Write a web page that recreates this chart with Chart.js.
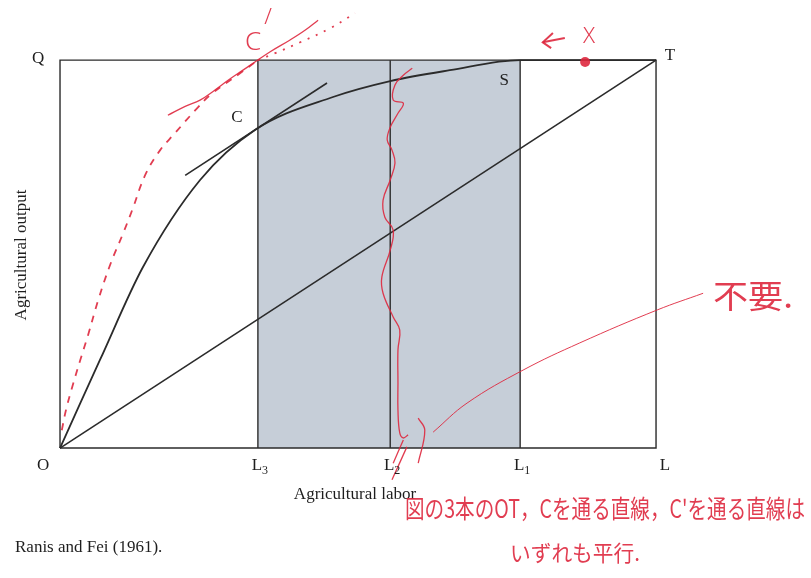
<!DOCTYPE html>
<html>
<head>
<meta charset="utf-8">
<script src="https://cdn.jsdelivr.net/npm/chart.js@4.4.1/dist/chart.umd.min.js"></script>
<style>
  body { margin: 0; background: #fff; }
  #wrap { width: 811px; height: 578px; }
</style>
</head>
<body>
<div id="wrap"><canvas id="fig" width="811" height="578"></canvas></div>
<script>
// axis marks (labor share, 0 = O, 100 = L)
var laborMarks = ['O', 'L3', 'L2', 'L1', 'L'];
var laborPos = [0, 33.2, 55.4, 77.2, 100];
var outputTop = 100;

// total product curve O - C - S - T
var curveX = [0, 3.4, 6.7, 13.9, 23.5, 32.7, 45.8, 55.4, 65.4, 77.2, 100];
var curveY = [0, 11.6, 22.7, 46.6, 69.1, 82.0, 90.5, 94.6, 97.4, 100, 100];

// tangent at C (parallel to OT)
var tangentX = [21, 44.8];
var tangentY = [70.3, 94.1];

// handwritten red curve (dashed part, then dotted part)
var redDashX = [0.3, 1.0, 2.0, 3.4, 4.7, 6.4, 8.4, 10.6, 12.1, 14.3, 16.8, 19.3, 22.7, 25.2, 30.2, 33.2];
var redDashY = [4.6, 9.8, 15.5, 22.7, 29.1, 38.1, 47.2, 55.4, 61.3, 70.4, 76.8, 81.2, 87.1, 91.0, 96.6, 100];
var redDotX = [33.2, 36.1, 40.3, 45.3, 49.5];
var redDotY = [100, 101.8, 104.6, 108.2, 112.1];

// handwritten line through C'
var cPrimeX = [18.1, 21.0, 23.5, 26.0, 28.2, 30.2, 32.7, 35.2, 38.6, 41.1, 43.3];
var cPrimeY = [85.8, 88.1, 89.7, 92.3, 94.8, 96.9, 99.5, 102.1, 105.2, 107.7, 110.3];

// squiggle along L2
var squigX = [59.1, 57.6, 56.2, 55.9, 57.6, 56.7, 55.4, 54.9, 55.7, 56.2, 55.4, 54.2, 54.5, 55.9, 55.4, 54.0, 54.2, 55.9, 57.0, 56.7, 56.7, 56.7, 57.0, 57.6, 58.4];
var squigY = [97.9, 96.1, 93.6, 89.7, 88.9, 86.3, 82.7, 79.4, 76.8, 73.5, 69.1, 63.9, 59.5, 56.2, 51.0, 44.1, 39.9, 33.8, 30.4, 25.3, 16.8, 9.8, 3.9, 2.6, 3.4];

// small strokes under L2 and the pointer to the note
var tick1X = [57.6, 55.9], tick1Y = [2.1, -3.9];
var tick2X = [58.2, 55.7], tick2Y = [0.3, -8.2];
var hookX = [60.1, 61.2, 60.1], hookY = [7.7, 4.6, -3.9];
var pointerX = [62.6, 68.3, 77.7, 87.2, 100.2, 107.9];
var pointerY = [4.1, 11.6, 20.1, 27.1, 35.6, 39.9];

// red point and arrow at the top
var markX = [88.1], markY = [99.5];
var arrowShaftX = [84.7, 81.0], arrowShaftY = [105.7, 104.6];
var arrowHeadX = [82.7, 81.0, 82.4], arrowHeadY = [107.0, 104.6, 103.1];

function pts(xs, ys) {
  return xs.map(function(x, i) { return { x: x, y: ys[i] }; });
}

var INK = '#2b2b2b';
var RED = 'rgba(222,40,62,0.9)';

function blackLine(data, w) {
  return { data: data, borderColor: INK, borderWidth: w || 1.6, pointRadius: 0, showLine: true, fill: false, order: 5 };
}
function redLine(data, extra) {
  var d = { data: data, borderColor: RED, borderWidth: 1.3, pointRadius: 0, showLine: true, fill: false, tension: 0.4, order: 1 };
  for (var k in extra) d[k] = extra[k];
  return d;
}

var L3 = laborPos[1], L1 = laborPos[3], LL = laborPos[4];

var datasets = [
  // shaded band L3..L1
  { data: [{x: L3, y: 0}, {x: L3, y: outputTop}, {x: L1, y: outputTop}, {x: L1, y: 0}],
    showLine: true, borderWidth: 0, pointRadius: 0, fill: 'origin',
    backgroundColor: '#c6ced8', order: 10 },
  // frame O-Q-T-L
  blackLine([{x: 0, y: 0}, {x: 0, y: outputTop}, {x: LL, y: outputTop}, {x: LL, y: 0}, {x: 0, y: 0}], 1.4),
  // diagonal OT
  blackLine([{x: 0, y: 0}, {x: LL, y: outputTop}], 1.6),
  // curve
  Object.assign(blackLine(pts(curveX, curveY), 1.8), { cubicInterpolationMode: 'monotone' }),
  blackLine(pts(tangentX, tangentY), 1.6),
  // red annotations
  redLine(pts(redDashX, redDashY), { borderDash: [7, 7], borderWidth: 1.8 }),
  redLine(pts(redDotX, redDotY), { borderDash: [2, 7], borderWidth: 1.8 }),
  redLine(pts(cPrimeX, cPrimeY), {}),
  redLine(pts(squigX, squigY), {}),
  redLine(pts(tick1X, tick1Y), {}),
  redLine(pts(tick2X, tick2Y), {}),
  redLine(pts(hookX, hookY), {}),
  redLine(pts(pointerX, pointerY), { borderWidth: 1 }),
  redLine(pts(arrowShaftX, arrowShaftY), { borderWidth: 2, tension: 0 }),
  redLine(pts(arrowHeadX, arrowHeadY), { borderWidth: 2, tension: 0 }),
  { data: pts(markX, markY), pointRadius: 5, pointBackgroundColor: RED, pointBorderWidth: 0, showLine: false, order: 1 }
];
// verticals at L3, L2, L1
laborPos.slice(1, 4).forEach(function(p) {
  datasets.push(blackLine([{x: p, y: 0}, {x: p, y: outputTop}], 1.4));
});

var SERIF = '"Liberation Serif", "Times New Roman", serif';
var HAND = '"Noto Sans CJK JP", sans-serif';

var labelsPlugin = {
  id: 'labels',
  beforeDraw: function(chart) {
    var c = chart.ctx;
    c.save();
    c.fillStyle = '#fff';
    c.fillRect(0, 0, chart.width, chart.height);
    c.restore();
  },
  afterDraw: function(chart) {
    var c = chart.ctx, sx = chart.scales.x, sy = chart.scales.y;
    function X(v) { return sx.getPixelForValue(v); }
    function Y(v) { return sy.getPixelForValue(v); }
    c.save();
    c.fillStyle = '#1e1e1e';
    c.textBaseline = 'middle';
    c.textAlign = 'center';
    c.font = '17px ' + SERIF;

    // x axis marks
    laborMarks.forEach(function(m, i) {
      var x = X(laborPos[i]) + (i === 0 ? -17 : (i === 4 ? 9 : 2));
      var y = Y(0) + 17;
      if (m.length > 1) {
        c.font = '17px ' + SERIF;
        c.fillText(m[0], x - 3, y);
        c.font = '12px ' + SERIF;
        c.fillText(m.slice(1), x + 5, y + 6);
      } else {
        c.font = '17px ' + SERIF;
        c.fillText(m, x, y);
      }
    });
    c.font = '17px ' + SERIF;
    c.fillText('Q', X(0) - 22, Y(outputTop) - 2);
    c.fillText('T', X(LL) + 14, Y(outputTop) - 5);
    c.fillText('S', X(L1) - 16, Y(outputTop) + 20);
    c.fillText('C', X(curveX[5]) - 18, Y(curveY[5]) - 12);
    c.fillText('Agricultural labor', 355, 495);
    c.textAlign = 'left';
    c.fillText('Ranis and Fei (1961).', 15, 548);
    c.save();
    c.translate(22, 255);
    c.rotate(-Math.PI / 2);
    c.textAlign = 'center';
    c.fillText('Agricultural output', 0, 0);
    c.restore();

    // handwritten notes
    c.fillStyle = RED;
    c.textAlign = 'center';
    c.font = '300 26px "Noto Sans", sans-serif';
    c.fillText('C', 253, 43);
    c.font = '300 22px "Noto Sans", sans-serif';
    c.fillText('/', 268, 18);
    c.fillText('X', 589, 37);

    function fit(text, left, cy, width, size) {
      c.save();
      c.font = size + 'px ' + HAND;
      c.textAlign = 'left';
      var w = c.measureText(text).width;
      c.translate(left, cy);
      c.scale(width / w, 1);
      c.fillText(text, 0, 0);
      c.restore();
    }
    fit('図の3本のOT，Cを通る直線，C\'を通る直線は', 405, 508, 400, 25);
    fit('いずれも平行.', 510, 553, 130, 22);
    fit('不要.', 713, 296, 80, 32);
    c.restore();
  }
};

new Chart(document.getElementById('fig'), {
  type: 'scatter',
  data: { datasets: datasets },
  options: {
    responsive: false,
    animation: false,
    events: [],
    layout: { padding: 0, autoPadding: false },
    plugins: { legend: { display: false }, tooltip: { enabled: false } },
    scales: {
      x: { type: 'linear', min: -10.07, max: 126.0, display: false },
      y: { type: 'linear', min: -33.5, max: 115.5, display: false }
    }
  },
  plugins: [labelsPlugin]
});
</script>
</body>
</html>
